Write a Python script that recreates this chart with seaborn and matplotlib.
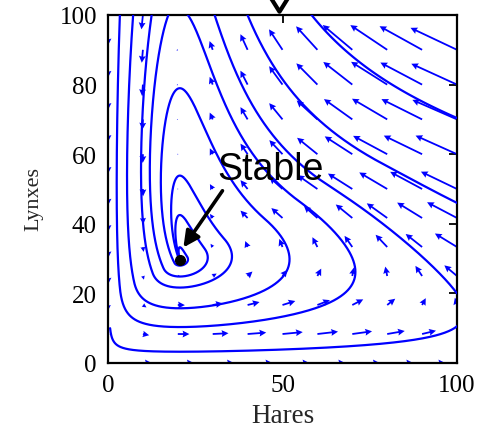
import math
import numpy as np
import pandas as pd
import matplotlib
matplotlib.use('Agg')
import matplotlib.pyplot as plt
import seaborn as sns

# predator-prey model, hare growth rate set by state feedback (u >= 0)
a, b, c, d, k, r = 3.2, 0.6, 50.0, 0.56, 125.0, 1.6
gains = [0.025, -0.052]
H_eq = c * d / (a * b - d)
L_eq = r * (1 - H_eq / k) * (c + H_eq) / a

# arrow grid (rows are closer together below 50 in the picture)
grid_h = [0, 10, 20, 30, 40, 50, 60, 70, 80, 90, 100]
grid_l = [0, 8.33, 16.67, 25, 33.33, 41.67, 50, 60, 70, 80, 90, 100]

# trajectory start points (hares, lynxes)
seed_h = [0.6, 3.4, 7.2, 12.5, 17.3, 100.0, 100.0, 100.0]
seed_l = [10.0, 100.0, 100.0, 100.0, 100.0, 70.4, 46.0, 20.0]

x_ticks = [0, 50, 100]
y_ticks = [0, 20, 40, 60, 80, 100]


def field(H, L):
    u = np.maximum(0.0, -gains[0] * (H - H_eq) - gains[1] * (L - L_eq))
    dH = (r + u) * H * (1 - H / k) - a * H * L / (c + H)
    dL = b * a * H * L / (c + H) - d * L
    return dH, dL


def trace(h, l, dt=0.01, tmax=80.0):
    pts = [(h, l)]
    for _ in range(int(tmax / dt)):
        k1 = field(h, l)
        k2 = field(h + 0.5 * dt * k1[0], l + 0.5 * dt * k1[1])
        k3 = field(h + 0.5 * dt * k2[0], l + 0.5 * dt * k2[1])
        k4 = field(h + dt * k3[0], l + dt * k3[1])
        h = h + dt * (k1[0] + 2 * k2[0] + 2 * k3[0] + k4[0]) / 6
        l = l + dt * (k1[1] + 2 * k2[1] + 2 * k3[1] + k4[1]) / 6
        pts.append((float(h), float(l)))
        if h < -1 or h > 101 or l < -1 or l > 101:
            break
        if math.hypot(h - H_eq, l - L_eq) < 0.2:
            break
    return pts


rows = []
for n, (h0, l0) in enumerate(zip(seed_h, seed_l)):
    for p in trace(h0, l0):
        rows.append({'traj': n, 'Hares': p[0], 'Lynxes': p[1]})
traj = pd.DataFrame(rows)

# vector field on the grid, long arrows are squashed
HH, LL = np.meshgrid(np.array(grid_h, float), np.array(grid_l, float))
U, V = field(HH, LL)
mag = np.hypot(U, V)
mag[mag == 0] = 1e-9
length = 15.8 * np.tanh(mag / 90.0)
U = U / mag * length
V = V / mag * length

sns.set_theme(style='white')
plt.rcParams['font.family'] = ['Liberation Serif', 'DejaVu Serif']

fig = plt.figure(figsize=(4.91, 4.31), dpi=100)
ax = fig.add_axes([108 / 491, 67 / 431, 349 / 491, 348 / 431])

ax.quiver(HH, LL, U, V, color='#0000ff', angles='xy', scale_units='xy', scale=1,
          units='dots', width=1.8, headwidth=3.8, headlength=3.8, headaxislength=3.4,
          minlength=0.5, zorder=2)

sns.lineplot(data=traj, x='Hares', y='Lynxes', units='traj', estimator=None, sort=False,
             color='#0000ff', linewidth=1.6, ax=ax, zorder=3)

ax.plot([H_eq], [L_eq], 'o', color='black', ms=7, zorder=5)
ax.annotate('', xy=(21.6, 33.2), xytext=(32.8, 49.5),
            arrowprops=dict(arrowstyle='-|>', color='black', lw=2.6, mutation_scale=24,
                            shrinkA=0, shrinkB=0), zorder=6)
ax.text(31.3, 53.0, 'Stable', fontsize=27, family=['Liberation Sans', 'DejaVu Sans'],
        color='black', ha='left', va='baseline', zorder=6)

# wide open triangle cut by the top edge of the figure
ax.plot([49.0], [104.66], marker=[(-1.25, 1), (1.25, 1), (0, -1), (-1.25, 1)], ms=22,
        mfc='white', mec='black', mew=3, clip_on=False, zorder=7)

ax.set_xlim(0, 100)
ax.set_ylim(0, 100)
ax.set_xticks(x_ticks)
ax.set_yticks(y_ticks)
ax.set_xlabel('Hares', fontsize=19.5, labelpad=5)
ax.set_ylabel('Lynxes', fontsize=16)
ax.yaxis.set_label_coords(-0.186, 0.474)
ax.tick_params(direction='in', length=6, width=1.3, top=True, right=True,
               labelsize=18, colors='black', pad=8)
for s in ax.spines.values():
    s.set_linewidth(1.6)
    s.set_color('black')

fig.savefig('out.png', dpi=100)
